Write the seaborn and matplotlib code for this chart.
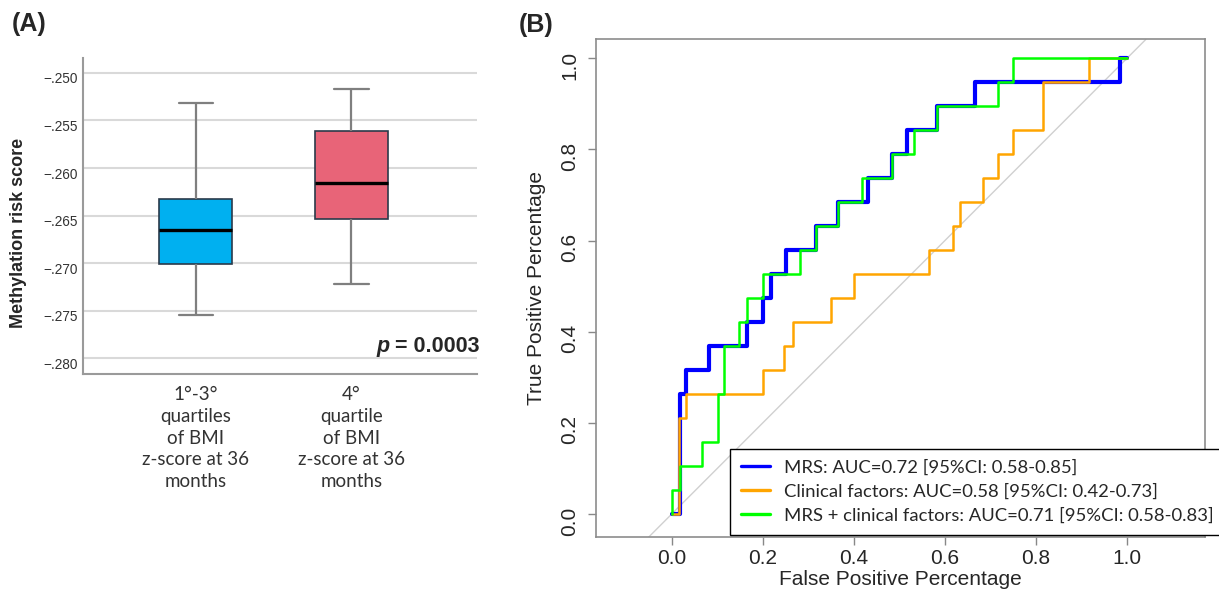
import numpy as np
import pandas as pd
import matplotlib
matplotlib.use("Agg")
import matplotlib.pyplot as plt
import matplotlib.transforms as mtransforms
from matplotlib.ticker import FuncFormatter
import seaborn as sns

# ===== Panel A data (box stats) =====
groups = ["1°-3°\nquartiles\nof BMI\nz-score at 36\nmonths",
          "4°\nquartile\nof BMI\nz-score at 36\nmonths"]
# whisker low, Q1, median, Q3, whisker high
stats_low = [-0.27549, -0.27006, -0.26656, -0.26327, -0.25318]
stats_high = [-0.27220, -0.26534, -0.26159, -0.25606, -0.25171]
box_colors = ["#00B0F0", "#E86478"]
p_value = "0.0003"

# ===== Panel B data (ROC steps, start of each horizontal run) =====
mrs_fpr = [0, 0.018, 0.032, 0.083, 0.165, 0.200, 0.218, 0.251, 0.317, 0.366,
           0.432, 0.483, 0.516, 0.583, 0.667, 0.984, 1.0]
mrs_tpr = [0, 0.263, 0.316, 0.368, 0.421, 0.474, 0.526, 0.579, 0.632, 0.684,
           0.737, 0.789, 0.842, 0.895, 0.947, 1.0, 1.0]

clin_fpr = [0, 0.016, 0.032, 0.200, 0.247, 0.266, 0.350, 0.401, 0.566, 0.617,
            0.634, 0.683, 0.716, 0.749, 0.816, 0.917, 1.0]
clin_tpr = [0, 0.211, 0.263, 0.316, 0.368, 0.421, 0.474, 0.526, 0.579, 0.632,
            0.684, 0.737, 0.789, 0.842, 0.947, 1.0, 1.0]

comb_fpr = [0, 0, 0.018, 0.067, 0.102, 0.116, 0.149, 0.165, 0.200, 0.282,
            0.317, 0.366, 0.419, 0.483, 0.532, 0.583, 0.716, 0.749, 1.0]
comb_tpr = [0, 0.053, 0.105, 0.158, 0.263, 0.368, 0.421, 0.474, 0.526, 0.579,
            0.632, 0.684, 0.737, 0.789, 0.842, 0.895, 0.947, 1.0, 1.0]

roc_labels = ["MRS: AUC=0.72 [95%CI: 0.58-0.85]",
              "Clinical factors: AUC=0.58 [95%CI: 0.42-0.73]",
              "MRS + clinical factors: AUC=0.71 [95%CI: 0.58-0.83]"]
roc_colors = ["#0000FF", "#FFA500", "#00FF00"]

# ===== Style =====
sns.set_style("white")
plt.rcParams["font.family"] = ["Liberation Sans", "DejaVu Sans"]

fig = plt.figure(figsize=(12.19, 5.91), dpi=100)
axA = fig.add_axes([0.0681, 0.3672, 0.3232, 0.5347])
axB = fig.add_axes([0.4889, 0.0914, 0.4996, 0.8418])

# ===== Panel A: boxplot =====
box_df = pd.DataFrame({
    "group": [groups[0]] * len(stats_low) + [groups[1]] * len(stats_high),
    "score": stats_low + stats_high,
})
sns.boxplot(data=box_df, x="group", y="score", hue="group", order=groups,
            palette=box_colors, saturation=1, whis=np.inf, width=0.47,
            linewidth=1.2, linecolor="#2b3a4a", legend=False, ax=axA,
            whiskerprops=dict(color="#7f7f7f", linewidth=1.6),
            capprops=dict(color="#7f7f7f", linewidth=1.6),
            medianprops=dict(color="black", linewidth=2.4),
            capwidths=0.22)

axA.set_xlim(-0.724, 1.806)
axA.set_ylim(-0.28168, -0.24842)
axA.set_yticks([-0.280, -0.275, -0.270, -0.265, -0.260, -0.255, -0.250])
axA.yaxis.set_major_formatter(FuncFormatter(
    lambda v, _: f"{v:.3f}".replace("-0.", "\u2212.")))
axA.set_axisbelow(True)
axA.yaxis.grid(True, color="#d9d9d9", linewidth=1.5)
axA.xaxis.grid(False)
axA.set_xlabel("")
axA.set_ylabel("")
sns.despine(ax=axA)
for side in ["left", "bottom"]:
    axA.spines[side].set_color("#9a9a9a")
    axA.spines[side].set_linewidth(1.5)
axA.tick_params(axis="y", length=0, labelsize=9.8, labelcolor="#333333", pad=4)
axA.tick_params(axis="x", length=0, labelsize=13.5, labelcolor="#333333", pad=9)
for lbl in axA.get_xticklabels():
    lbl.set_fontfamily("Lato")
    lbl.set_linespacing(1.33)
offset = mtransforms.ScaledTranslation(0, -0.05, fig.dpi_scale_trans)
for lbl in axA.get_yticklabels():
    lbl.set_transform(lbl.get_transform() + offset)

fig.text(18.5 / 1219, 1 - 233 / 591, "Methylation risk score", rotation=90,
         ha="center", va="center", fontsize=13, fontweight="bold")

pt = axA.text(1.0076, 0.0854, " = " + p_value, transform=axA.transAxes,
              ha="right", va="center", fontsize=15.5, fontweight="bold")
axA.annotate("p", xy=(0, 0), xycoords=pt, ha="right", va="bottom",
             fontsize=15.5, fontweight="bold", fontstyle="italic")

# ===== Panel B: ROC curves =====
axB.axline((0, 0), (1, 1), color="#d0d0d0", linewidth=1, zorder=1)
curves = [(mrs_fpr, mrs_tpr, 3.0), (clin_fpr, clin_tpr, 1.8),
          (comb_fpr, comb_tpr, 1.8)]
for (fpr, tpr, lw), color, label in zip(curves, roc_colors, roc_labels):
    sns.lineplot(x=fpr, y=tpr, color=color, linewidth=lw, label=label,
                 drawstyle="steps-post", sort=False, estimator=None, ax=axB)

axB.set_xlim(-0.166, 1.171)
axB.set_ylim(-0.050, 1.041)
axB.set_xticks(np.arange(0, 1.01, 0.2))
axB.set_yticks(np.arange(0, 1.01, 0.2))
axB.xaxis.set_major_formatter(FuncFormatter(lambda v, _: f"{v:.1f}"))
axB.yaxis.set_major_formatter(FuncFormatter(lambda v, _: f"{v:.1f}"))
axB.tick_params(axis="both", direction="out", length=6, width=1,
                color="#888888", labelsize=15, left=True, bottom=True)
axB.tick_params(axis="x", pad=3)
axB.tick_params(axis="y", labelrotation=90, pad=6)
for side in axB.spines:
    axB.spines[side].set_color("#8c8c8c")
    axB.spines[side].set_linewidth(1.2)
axB.set_xlabel("False Positive Percentage", fontsize=15)
axB.set_ylabel("True Positive Percentage", fontsize=15)
axB.xaxis.set_label_coords(0.5, -0.066)
axB.yaxis.set_label_coords(-0.082, 0.5)

leg = axB.legend(loc="upper left", bbox_to_anchor=(0.22, 0.177),
                 borderaxespad=0, frameon=True, fancybox=False, framealpha=1,
                 edgecolor="black", prop={"family": "Lato", "size": 13.3},
                 handlelength=1.6, handletextpad=0.75, labelspacing=0.42,
                 borderpad=0.58)
leg.get_frame().set_linewidth(1.0)
for h in leg.get_lines():
    h.set_linewidth(2.4)

fig.text(29 / 1219, 1 - 24 / 591, "(A)", ha="center", va="center",
         fontsize=18, fontweight="bold")
fig.text(536 / 1219, 1 - 25 / 591, "(B)", ha="center", va="center",
         fontsize=18, fontweight="bold")

fig.savefig("out.png", dpi=100)
